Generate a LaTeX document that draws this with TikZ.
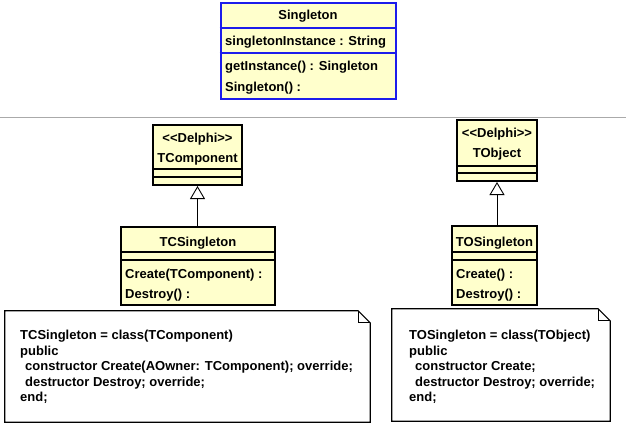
\documentclass[tikz,border=0pt]{standalone}
\usepackage{fontspec}
\setmainfont{Liberation Sans}
\usetikzlibrary{arrows.meta,calc,positioning}
\definecolor{UmlYellow}{RGB}{255,255,204}
\definecolor{UmlBlue}{RGB}{28,28,235}
\definecolor{RuleGrey}{RGB}{170,170,170}

\begin{document}
\begin{tikzpicture}[x=1pt,y=-1pt,>=Latex,
  umlclass/.style={draw,line width=2pt,fill=UmlYellow,inner sep=0pt},
  umltext/.style={inner sep=0pt,font=\fontsize{13}{15.5}\selectfont\bfseries,text height=9.3pt,text depth=0pt},
  notebox/.style={inner sep=0pt},
  noteline/.style={line width=1.2pt,line join=miter},
  notetext/.style={inner sep=0pt,align=left,anchor=north west,font=\fontsize{13}{15.5}\selectfont\bfseries},
  inherit/.style={line width=0.9pt,-{Triangle[open,length=13pt,width=15pt,fill=white]}}]

\useasboundingbox (0,0) rectangle (626,429);

% top class
\node[umlclass,draw=UmlBlue,minimum width=175pt,minimum height=96pt] (single) at (308,50.5) {};
\draw[UmlBlue,line width=2pt] (single.west |- 0,28) -- (single.east |- 0,28);
\draw[UmlBlue,line width=2pt] (single.west |- 0,53) -- (single.east |- 0,53);
\node[umltext] (singlename) at (308,15) {Singleton};
\node[umltext,anchor=west] (singleattr) at (225,41) {singletonInstance : String};
\node[umltext,anchor=west] (singleget) at (225,66) {getInstance() : Singleton};
\node[umltext,anchor=west] (singlector) at (225,87) {Singleton() :};

% separator
\draw[RuleGrey,line width=1pt] (0,117) -- (626,117);

% left hierarchy
\node[umlclass,minimum width=89pt,minimum height=60pt] (tcomp) at (197.5,155) {};
\draw[line width=2pt] (tcomp.west |- 0,169) -- (tcomp.east |- 0,169);
\draw[line width=2pt] (tcomp.west |- 0,177) -- (tcomp.east |- 0,177);
\node[umltext] (tcompster) at (197.5,138) {<\kern0pt<Delphi>\kern0pt>};
\node[umltext] (tcompname) at (197.5,158) {TComponent};

\node[umlclass,minimum width=154pt,minimum height=78pt] (tcs) at (198,266) {};
\draw[line width=2pt] (tcs.west |- 0,252) -- (tcs.east |- 0,252);
\draw[line width=2pt] (tcs.west |- 0,260) -- (tcs.east |- 0,260);
\node[umltext] (tcsname) at (198,242) {TCSingleton};
\node[umltext,anchor=west] (tcscreate) at (125,274) {Create(TComponent) :};
\node[umltext,anchor=west] (tcsdestroy) at (125,294) {Destroy() :};
\draw[inherit] (tcs.north -| tcomp.south) -- (tcomp.south);

% right hierarchy
\node[umlclass,minimum width=80pt,minimum height=61pt] (tobj) at (497,150.5) {};
\draw[line width=2pt] (tobj.west |- 0,166) -- (tobj.east |- 0,166);
\draw[line width=2pt] (tobj.west |- 0,173) -- (tobj.east |- 0,173);
\node[umltext] (tobjster) at (497,133) {<\kern0pt<Delphi>\kern0pt>};
\node[umltext] (tobjname) at (497,153) {TObject};

\node[umlclass,minimum width=85pt,minimum height=79pt] (tos) at (494.5,265.5) {};
\draw[line width=2pt] (tos.west |- 0,252) -- (tos.east |- 0,252);
\draw[line width=2pt] (tos.west |- 0,260) -- (tos.east |- 0,260);
\node[umltext] (tosname) at (494.5,242) {TOSingleton};
\node[umltext,anchor=west] (toscreate) at (456,274) {Create() :};
\node[umltext,anchor=west] (tosdestroy) at (456,294) {Destroy() :};
\draw[inherit] (tos.north -| tobj.south) -- (tobj.south);

% notes
\node[notebox,minimum width=365pt,minimum height=111pt] (tcnote) at (187.5,366.5) {};
\draw[noteline,fill=white] (tcnote.north west) -- ($(tcnote.north east)+(-12,0)$) -- ($(tcnote.north east)+(0,12)$)
  -- (tcnote.south east) -- (tcnote.south west) -- cycle;
\draw[noteline] ($(tcnote.north east)+(-12,0)$) -- ($(tcnote.north east)+(-12,12)$) -- ($(tcnote.north east)+(0,12)$);
\node[notetext] (tcnotetext) at (20,330) {TCSingleton = class(TComponent)\\
  public\\
  \hspace*{5pt}constructor Create(AOwner: TComponent); override;\\
  \hspace*{5pt}destructor Destroy; override;\\
  end;};

\node[notebox,minimum width=218pt,minimum height=112pt] (tonote) at (501,365) {};
\draw[noteline,fill=white] (tonote.north west) -- ($(tonote.north east)+(-12,0)$) -- ($(tonote.north east)+(0,12)$)
  -- (tonote.south east) -- (tonote.south west) -- cycle;
\draw[noteline] ($(tonote.north east)+(-12,0)$) -- ($(tonote.north east)+(-12,12)$) -- ($(tonote.north east)+(0,12)$);
\node[notetext] (tonotetext) at (409,330) {TOSingleton = class(TObject)\\
  public\\
  \hspace*{6pt}constructor Create;\\
  \hspace*{6pt}destructor Destroy; override;\\
  end;};
\end{tikzpicture}
\end{document}
